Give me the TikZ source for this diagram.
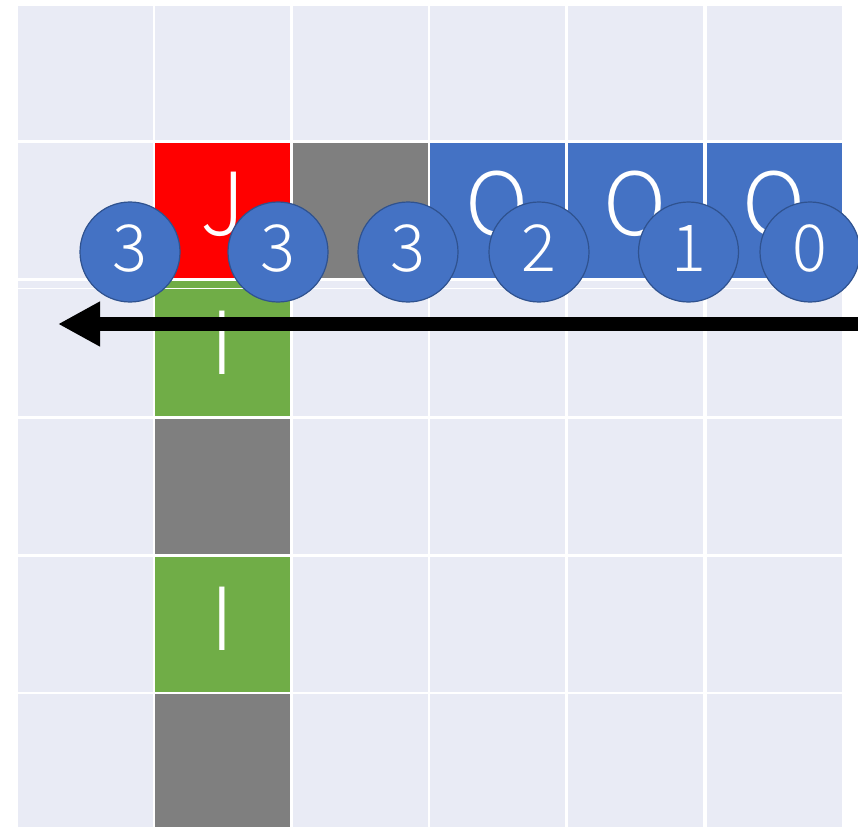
\documentclass[tikz,border=0pt]{standalone}
\usepackage{fontspec}
\IfFontExistsTF{Noto Sans CJK JP Light}
  {\newfontfamily\jpfont{Noto Sans CJK JP Light}}
  {\newfontfamily\jpfont{Noto Sans CJK JP}}
\usetikzlibrary{arrows.meta,calc}
\definecolor{lightcell}{HTML}{E9EBF5}
\definecolor{redcell}{HTML}{FF0000}
\definecolor{graycell}{HTML}{7F7F7F}
\definecolor{bluecell}{HTML}{4472C4}
\definecolor{greencell}{HTML}{70AD47}
\definecolor{circleedge}{HTML}{2F528F}
\begin{document}
\begin{tikzpicture}[x=1pt,y=-1pt,
  cell/.style={rectangle, anchor=north west, minimum width=135pt, minimum height=134.5pt, inner sep=0pt, outer sep=0pt, draw=none, fill=lightcell},
  letter/.style={anchor=base, inner sep=0pt, text=white, font=\jpfont\fontsize{87}{87}\selectfont},
  badge/.style={circle, minimum size=100pt, inner sep=0pt, fill=bluecell, draw=circleedge, line width=1.2pt},
  digit/.style={anchor=base, inner sep=0pt, text=white, font=\jpfont\fontsize{65}{65}\selectfont},
  bigarrow/.style={line width=14pt, -{Triangle[length=42pt,width=42pt]}},
  sepline/.style={draw=white, line width=1pt}
]
\useasboundingbox (0,0) rectangle (858,826);
\fill[white] (0,0) rectangle (858,826);
% light grid
\foreach \c/\x in {1/18,2/155,3/292.5,4/430,5/568,6/707}{
  \foreach \r/\y in {1/6,2/143,3/281,4/419,5/557,6/694}{
    \node[cell] (c\r\c) at (\x,\y) {};
  }
}
% coloured cells
\node[cell, fill=redcell]   (k22) at (c22.north west) {};
\node[cell, fill=graycell]  (k23) at (c23.north west) {};
\node[cell, fill=bluecell]  (k24) at (c24.north west) {};
\node[cell, fill=bluecell]  (k25) at (c25.north west) {};
\node[cell, fill=bluecell]  (k26) at (c26.north west) {};
\node[cell, fill=greencell] (k32) at (c32.north west) {};
\node[cell, fill=graycell]  (k42) at (c42.north west) {};
\node[cell, fill=greencell] (k52) at (c52.north west) {};
\node[cell, fill=graycell]  (k62) at (c62.north west) {};
% thin separator line
\coordinate (wl) at (18,288);
\coordinate (wr) at (842,288);
\draw[sepline] (wl) -- (wr);
% letters
\node[letter] (tJ)  at ($(k22.north)+(0,93)$) {J};
\node[letter] (tO1) at ($(k24.north)+(0,93)$) {O};
\node[letter] (tO2) at ($(k25.north)+(0,93)$) {O};
\node[letter] (tO3) at ($(k26.north)+(0,93)$) {O};
\node[letter] (tI1) at ($(k32.north)+(0,93)$) {I};
\node[letter] (tI2) at ($(k52.north)+(0,93)$) {I};
% badges
\foreach \n/\x/\d in {1/130/3,2/278/3,3/408/3,4/539/2,5/688.5/1,6/810/0}{
  \node[badge] (b\n) at (\x,252) {};
  \node[digit] (d\n) at ($(b\n.center)+(0,19.5)$) {\d};
}
% arrow
\coordinate (astart) at (860,324);
\coordinate (aend) at (58,324);
\draw[bigarrow] (astart) -- (aend);
\end{tikzpicture}
\end{document}
